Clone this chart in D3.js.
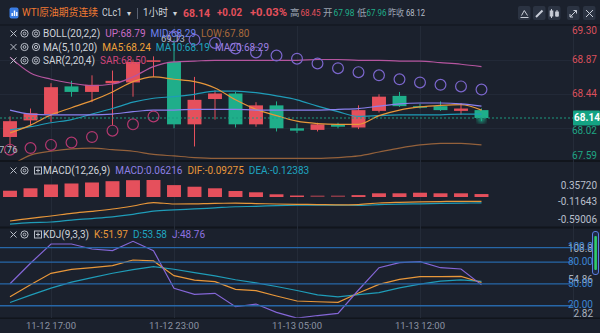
<!DOCTYPE html>
<html><head><meta charset="utf-8">
<script src="https://cdn.jsdelivr.net/npm/d3@7"></script>
<style>
html,body{margin:0;padding:0;background:#1b212d;overflow:hidden;}
svg{display:block;font-family:Roboto,"Noto Sans CJK SC","Noto Sans",sans-serif;}
</style></head><body><svg id="c" width="600" height="333"></svg>
<script>
// ---------------- data ----------------
const times = ["11-12 15:00","11-12 16:00","11-12 17:00","11-12 18:00","11-12 19:00","11-12 20:00","11-12 21:00","11-12 22:00","11-12 23:00","11-13 00:00","11-13 01:00","11-13 02:00","11-13 03:00","11-13 04:00","11-13 05:00","11-13 07:00","11-13 08:00","11-13 09:00","11-13 10:00","11-13 11:00","11-13 12:00","11-13 13:00","11-13 14:00","11-13 15:00"];
const open  = [67.90,68.11,68.19,68.54,68.47,68.58,68.59,68.85,68.85,68.06,68.38,68.45,68.06,68.30,68.01,67.99,68.06,68.02,68.23,68.42,68.29,68.29,68.23,68.24];
const high  = [68.16,68.26,68.58,68.61,68.68,68.74,68.88,68.92,69.13,68.66,68.49,68.47,68.34,68.35,68.07,68.08,68.08,68.30,68.44,68.47,68.32,68.35,68.33,68.26];
const low   = [67.76,68.05,68.09,68.41,68.34,68.05,68.41,68.66,68.01,67.78,68.12,68.02,68.03,67.97,67.95,67.97,68.01,68.00,68.21,68.28,68.26,68.23,68.18,68.10];
const close = [68.10,68.20,68.53,68.47,68.56,68.61,68.85,68.87,68.06,68.37,68.45,68.06,68.30,68.01,67.98,68.06,68.03,68.24,68.41,68.29,68.27,68.24,68.26,68.14];
const bollUp  = [68.91,68.71,68.63,68.58,68.55,68.57,68.66,68.79,68.85,68.86,68.87,68.87,68.87,68.87,68.87,68.88,68.88,68.87,68.87,68.86,68.86,68.84,68.82,68.79];
const bollMid = [68.24,68.19,68.18,68.18,68.18,68.19,68.22,68.24,68.24,68.25,68.25,68.25,68.24,68.24,68.24,68.24,68.25,68.26,68.29,68.32,68.33,68.33,68.32,68.29];
const bollLow = [67.53,67.67,67.72,67.75,67.76,67.74,67.72,67.68,67.66,67.64,67.63,67.63,67.63,67.63,67.63,67.63,67.64,67.66,67.71,67.76,67.80,67.82,67.82,67.80];
const ma5  = [67.95,68.05,68.18,68.27,68.36,68.47,68.60,68.66,68.63,68.60,68.52,68.37,68.25,68.17,68.10,68.07,68.06,68.06,68.17,68.24,68.28,68.30,68.31,68.24];
const ma10 = [67.99,68.03,68.08,68.12,68.19,68.26,68.34,68.39,68.41,68.44,68.48,68.48,68.46,68.42,68.37,68.29,68.22,68.16,68.17,68.18,68.18,68.18,68.19,68.19];
const ma20 = bollMid;
const sar  = [67.74,67.76,67.80,67.83,67.90,67.98,68.06,68.16,69.17,69.13,69.09,69.02,68.97,68.93,68.89,68.83,68.77,68.72,68.68,68.63,68.59,68.56,68.54,68.50];
const macdHist = [0.132,0.183,0.263,0.284,0.305,0.332,0.353,0.357,0.250,0.216,0.183,0.126,0.099,0.057,0.028,0.014,0.006,0.040,0.078,0.078,0.090,0.078,0.078,0.06216];
const dif = [-0.504,-0.447,-0.399,-0.342,-0.300,-0.252,-0.189,-0.116,-0.147,-0.143,-0.132,-0.130,-0.137,-0.147,-0.153,-0.158,-0.164,-0.158,-0.126,-0.111,-0.101,-0.095,-0.090,-0.09275];
const dea = [-0.569,-0.537,-0.525,-0.484,-0.452,-0.416,-0.364,-0.298,-0.271,-0.251,-0.228,-0.205,-0.196,-0.180,-0.172,-0.170,-0.170,-0.177,-0.162,-0.149,-0.143,-0.133,-0.128,-0.12383];
const kK = [32.4,49.0,64.7,70.2,72.4,75.2,83.0,81.7,61.4,55.4,53.1,42.6,40.7,33.4,26.5,25.5,24.7,37.5,49.5,56.4,60.0,60.0,60.5,51.97];
const kD = [24.5,34.7,44.3,52.5,58.8,64.8,69.7,74.0,70.3,65.6,61.2,55.8,51.5,46.5,41.0,35.0,32.3,35.4,38.0,44.5,49.7,53.8,55.5,53.58];
const kJ = [50.3,78.5,105.1,105.1,98.2,95.9,108.8,95.9,44.0,35.7,37.1,18.6,22.3,10.9,2.82,6.5,9.5,41.7,72.4,79.3,80.7,72.4,70.6,48.76];
const priceTicks = [69.30,68.87,68.44,68.02,67.59];
const macdTicks = [0.35720,-0.11643,-0.59006];
const kdjLevels = [100,80,50,20];
const kdjExtra = [108.8,54.86,2.82];
const xTickIdx = [2,8,14,20];
const lastPrice = 68.14, prevClose = 68.12;
const lowMark = 67.76, highMark = 69.13;

// ---------------- setup ----------------
const svg = d3.select("#c");
const C = {bg:"#1b212d", sep:"#11151c", grid:"#242b38", text:"#cfd3da", dim:"#8b93a3",
  red:"#e5505c", green:"#1fae8a", up:"#b5559f", mid:"#8a80ee", low:"#94613b",
  ma5:"#e8973a", ma10:"#1f9cb8", sarDn:"#b2386f", sarUp:"#7b66cc", j:"#8466d6"};
const plotR = 573;
svg.append("rect").attr("width",600).attr("height",333).attr("fill",C.bg);

const x = d3.scaleBand().domain(times).range([-0.25, 491.75]).padding(0);
const xc = i => x(times[i]) + x.bandwidth()/2;
const bw = x.bandwidth()*0.68;
const yM = d3.scaleLinear().domain([67.59,69.30]).range([161.5,26.3]);
const yD = d3.scaleLinear().domain([-0.59006,0.3572]).range([225.1,180]);
const yK = d3.scaleLinear().domain([2.82,108.8]).range([318.2,241.3]);

const defs = svg.append("defs");
[["cm",26,134.5],["cd",162,64.5],["ck",228,89.8]].forEach(([id,y,h])=>{
  defs.append("clipPath").attr("id",id).append("rect").attr("x",0).attr("y",y).attr("width",plotR).attr("height",h);
});
defs.append("filter").attr("id","blur").append("feGaussianBlur").attr("stdDeviation",2);

// separators
[[24.5,1],[160,2],[226.5,2],[317.5,1.5]].forEach(([y,h])=>svg.append("rect").attr("x",0).attr("y",y).attr("width",600).attr("height",h).attr("fill",C.sep));
svg.append("line").attr("x1",plotR+0.5).attr("x2",plotR+0.5).attr("y1",25).attr("y2",318).attr("stroke","#252c39");

// vertical grid
xTickIdx.forEach(i=>{
  svg.append("line").attr("x1",Math.round(xc(i))+0.5).attr("x2",Math.round(xc(i))+0.5).attr("y1",26).attr("y2",318).attr("stroke",C.grid);
});
// horizontal grid main
priceTicks.slice(1,4).forEach(v=>{
  svg.append("line").attr("x1",0).attr("x2",plotR).attr("y1",Math.round(yM(v))+0.5).attr("y2",Math.round(yM(v))+0.5).attr("stroke","#222937");
});

// ---------------- main pane ----------------
const gM = svg.append("g").attr("clip-path","url(#cm)");
const idx = d3.range(times.length);
const cg = gM.append("g").selectAll("g").data(idx).join("g");
cg.append("line").attr("x1",i=>xc(i)).attr("x2",i=>xc(i)).attr("y1",i=>yM(high[i])).attr("y2",i=>yM(low[i]))
  .attr("stroke",i=>close[i]>=open[i]?C.red:C.green).attr("stroke-width",1);
cg.append("rect").attr("x",i=>xc(i)-bw/2).attr("width",bw)
  .attr("y",i=>yM(Math.max(open[i],close[i]))).attr("height",i=>Math.max(1.2,Math.abs(yM(open[i])-yM(close[i]))))
  .attr("fill",i=>close[i]>=open[i]?C.red:C.green);
gM.append("circle").attr("cx",xc(23)).attr("cy",yM(lastPrice)+1).attr("r",4).attr("fill",C.green).attr("opacity",0.8).attr("filter","url(#blur)");

const line = (arr,y)=>d3.line().x((d,i)=>xc(i)).y(d=>y(d)).curve(d3.curveMonotoneX)(arr);
[[bollLow,C.low],[bollUp,C.up],[ma10,C.ma10],[ma5,C.ma5],[ma20,C.mid]].forEach(([a,c])=>{
  gM.append("path").attr("d",line(a,yM)).attr("fill","none").attr("stroke",c).attr("stroke-width",1.2);
});
gM.append("g").selectAll("circle").data(idx).join("circle")
  .attr("cx",i=>xc(i)).attr("cy",i=>yM(sar[i])).attr("r",5.4).attr("fill","none")
  .attr("stroke",i=>sar[i]>close[i]?C.sarUp:C.sarDn).attr("stroke-width",1.2);

svg.append("line").attr("x1",0).attr("x2",plotR).attr("y1",yM(lastPrice)).attr("y2",yM(lastPrice))
  .attr("stroke","#1d9a80").attr("stroke-dasharray","2,2").attr("stroke-width",1);

svg.append("text").attr("x",17.5).attr("y",yM(lowMark)+2).attr("text-anchor","end").attr("dominant-baseline","middle")
  .attr("font-size",9.5).attr("fill","#b4bac5").text(lowMark.toFixed(2));
svg.append("text").attr("x",161).attr("y",yM(highMark)).attr("dominant-baseline","middle")
  .attr("font-size",9.5).attr("fill","#b4bac5").text(highMark.toFixed(2));

const boxY = yM(lastPrice);
priceTicks.forEach(v=>{
  let y = Math.max(31, Math.min(156, yM(v)));
  if (Math.abs(y-boxY)<13) y = y>boxY ? boxY+13 : boxY-13;
  svg.append("text").attr("x",597).attr("y",y).attr("text-anchor","end").attr("dominant-baseline","middle")
    .attr("font-size",10).attr("fill",v>prevClose?"#d9505c":"#1fa584").text(v.toFixed(2));
});
svg.append("rect").attr("x",plotR).attr("y",boxY-7.5).attr("width",27).attr("height",15).attr("fill","#14a383").attr("rx",1);
svg.append("text").attr("x",587).attr("y",boxY+0.5).attr("text-anchor","middle").attr("dominant-baseline","middle")
  .attr("font-size",10).attr("font-weight","bold").attr("fill","#ffffff").text(lastPrice.toFixed(2));

// ---------------- MACD pane ----------------
const gD = svg.append("g").attr("clip-path","url(#cd)");
gD.append("g").selectAll("rect").data(idx).join("rect")
  .attr("x",i=>xc(i)-bw/2).attr("width",bw)
  .attr("y",i=>macdHist[i]>=0?Math.min(yD(macdHist[i]),yD(0)-1.5):yD(0))
  .attr("height",i=>Math.max(1.5,Math.abs(yD(macdHist[i])-yD(0))))
  .attr("fill",i=>macdHist[i]>=0?C.red:C.green)
  .attr("opacity",i=>Math.abs(macdHist[i])<0.02?0.55:1);
gD.append("path").attr("d",line(dea,yD)).attr("fill","none").attr("stroke",C.ma10).attr("stroke-width",1.2);
gD.append("path").attr("d",line(dif,yD)).attr("fill","none").attr("stroke",C.ma5).attr("stroke-width",1.2);
macdTicks.forEach(v=>{
  const y = Math.max(186.7, Math.min(220.7, yD(v)));
  svg.append("text").attr("x",597).attr("y",y).attr("text-anchor","end").attr("dominant-baseline","middle")
    .attr("font-size",10).attr("fill","#b8bfcb").text(v.toFixed(5));
});

// ---------------- KDJ pane ----------------
const gK = svg.append("g").attr("clip-path","url(#ck)");
kdjLevels.forEach(v=>{
  svg.append("line").attr("x1",0).attr("x2",plotR).attr("y1",yK(v)).attr("y2",yK(v)).attr("stroke","#2767a8").attr("stroke-width",1.3);
});
[[kD,C.ma10],[kK,C.ma5],[kJ,C.j]].forEach(([a,c])=>{
  gK.append("path").attr("d",d3.line().x((d,i)=>xc(i)).y(d=>yK(d))(a)).attr("fill","none").attr("stroke",c).attr("stroke-width",1.2);
});
kdjExtra.forEach(v=>{
  const y = Math.max(249, Math.min(314, yK(v)));
  svg.append("text").attr("x",593).attr("y",y).attr("text-anchor","end").attr("dominant-baseline","middle")
    .attr("font-size",10).attr("fill","#aab2bf").text(v===108.8?"108.8":v.toFixed(2));
});
kdjLevels.forEach(v=>{
  svg.append("text").attr("x",593).attr("y",yK(v)).attr("text-anchor","end").attr("dominant-baseline","middle")
    .attr("font-size",10).attr("fill","#3b84d2").text(v===100?"100.0":v.toFixed(2));
});
svg.append("rect").attr("x",592.5).attr("y",231.5).attr("width",6).attr("height",43).attr("rx",2.5).attr("fill","#1e2a44").attr("stroke","#5a7de0");
svg.append("rect").attr("x",594.3).attr("y",236).attr("width",2.6).attr("height",34).attr("rx",1).attr("fill","#2fcf68");

xTickIdx.forEach(i=>{
  svg.append("text").attr("x",xc(i)).attr("y",326).attr("text-anchor","middle").attr("dominant-baseline","middle")
    .attr("font-size",9.5).attr("fill",C.dim).text(times[i]);
});

// ---------------- legends ----------------
function icons(y, third){
  const g = svg.append("g").attr("stroke","#b9bec8").attr("fill","none").attr("stroke-width",1);
  g.append("path").attr("d",`M10.5,${y-3.5}L16.5,${y+2.5}M16.5,${y-3.5}L10.5,${y+2.5}`);
  g.append("circle").attr("cx",24.5).attr("cy",y-0.5).attr("r",3.6);
  g.append("circle").attr("cx",24.5).attr("cy",y-0.5).attr("r",1.4);
  if(third==="eye"){
    g.append("circle").attr("cx",36).attr("cy",y-0.5).attr("r",3.6);
    g.append("circle").attr("cx",36).attr("cy",y-0.5).attr("r",1.6);
  } else {
    g.append("rect").attr("x",34.5).attr("y",y-4).attr("width",7).attr("height",7);
    g.append("path").attr("d",`M38,${y-2.5}V${y+1.5}M36,${y-0.5}H40`);
  }
}
function legend(y, items, third){
  icons(y, third);
  const t = svg.append("text").attr("x",43).attr("y",y).attr("dominant-baseline","middle").attr("font-size",10);
  items.forEach(([s,c],k)=>t.append("tspan").attr("dx",k?5:0).attr("fill",c).text(s));
}
legend(34,[["BOLL(20,2,2)",C.text],["UP:"+bollUp[23].toFixed(2),"#c86cc4"],["MID:"+bollMid[23].toFixed(2),"#6f82ee"],["LOW:"+bollLow[23].toFixed(2),"#a8693c"]],"eye");
legend(47.5,[["MA(5,10,20)",C.text],["MA5:"+ma5[23].toFixed(2),"#f0a23a"],["MA10:"+ma10[23].toFixed(2),"#1fa5c0"],["MA20:"+ma20[23].toFixed(2),"#9d7fe0"]],"eye");
legend(61,[["SAR(2,20,4)",C.text],["SAR:"+sar[23].toFixed(2),"#d0457a"]],"eye");
legend(171,[["MACD(12,26,9)",C.text],["MACD:"+macdHist[23].toFixed(5),"#8e80e6"],["DIF:"+dif[23].toFixed(5),"#e8973a"],["DEA:"+dea[23].toFixed(5),"#1fa5c0"]],"box");
legend(235,[["KDJ(9,3,3)",C.text],["K:"+kK[23].toFixed(2),"#e8973a"],["D:"+kD[23].toFixed(2),"#1fa5c0"],["J:"+kJ[23].toFixed(2),"#8e72e0"]],"box");

// ---------------- header ----------------
const hy = 13.5;
svg.append("rect").attr("x",9.5).attr("y",7.5).attr("width",9).attr("height",11).attr("rx",2).attr("fill","#3a7de4");
[[11.5,13,3],[13.8,10.5,5.5],[16.1,12,4]].forEach(([bx,by,bh])=>svg.append("rect").attr("x",bx).attr("y",by).attr("width",1.4).attr("height",bh).attr("fill","#fff"));
function ht(xp, s, c, opt={}){
  return svg.append("text").attr("x",xp).attr("y",hy).attr("dominant-baseline","middle")
    .attr("font-size",opt.fs||10.5).attr("font-weight",opt.fw||"normal").attr("fill",c)
    .attr("textLength",opt.tl||null).attr("lengthAdjust","spacingAndGlyphs").text(s);
}
ht(22,"WTI原油期货连续","#f07a32",{fs:10,tl:76});
ht(102,"CLc1","#cfd3da",{fs:10.5,tl:20});
ht(127,"▾","#cfd3da",{fs:8});
svg.append("line").attr("x1",137.5).attr("x2",137.5).attr("y1",8).attr("y2",19).attr("stroke","#5a6272");
ht(143,"1小时","#cfd3da",{fs:10,tl:25});
ht(173,"▾","#cfd3da",{fs:8});
ht(183,"68.14","#e5505c",{fs:11.5,fw:"bold",tl:27});
ht(217,"+0.02","#e5505c",{fs:11,fw:"bold",tl:25});
ht(250,"+0.03%","#e5505c",{fs:11,fw:"bold",tl:37});
ht(290,"高","#9aa2b0",{fs:9.5});
ht(300.5,"68.45","#e5505c",{fs:9.5,tl:20});
ht(323,"开","#9aa2b0",{fs:9.5});
ht(333.5,"67.98","#1fae8a",{fs:9.5,tl:21});
ht(357,"低","#9aa2b0",{fs:9.5});
ht(366.5,"67.96","#1fae8a",{fs:9.5,tl:20});
ht(388,"昨收","#9aa2b0",{fs:9.5,tl:16});
ht(406,"68.12","#b8bfca",{fs:9.5,tl:19});
const btnX = [518,533,548,567,583];
btnX.forEach(bx=>svg.append("rect").attr("x",bx).attr("y",6).attr("width",12.5).attr("height",14).attr("rx",2).attr("fill","#2b3342"));
const ic = svg.append("g").attr("stroke","#c9ced8").attr("fill","none").attr("stroke-width",1);
ic.append("path").attr("d","M520.5,17.5H528.5M521.5,15.5L524.3,10.5L527.5,15.5");
ic.append("path").attr("d","M536,17L542.5,10.5").attr("stroke-width",2);
ic.append("path").attr("d","M551.5,9V18M557,10V17").attr("stroke-width",1);
ic.append("rect").attr("x",550.2).attr("y",11).attr("width",2.6).attr("height",5).attr("fill","#c9ced8");
ic.append("rect").attr("x",555.7).attr("y",12).attr("width",2.6).attr("height",4).attr("fill","#c9ced8");
ic.append("path").attr("d","M570,17L576.5,10.5M573.5,10.5H576.5V13.5M570,14V17H573");
ic.append("path").attr("d","M586,10L593,17M593,10L586,17");
</script></body></html>
